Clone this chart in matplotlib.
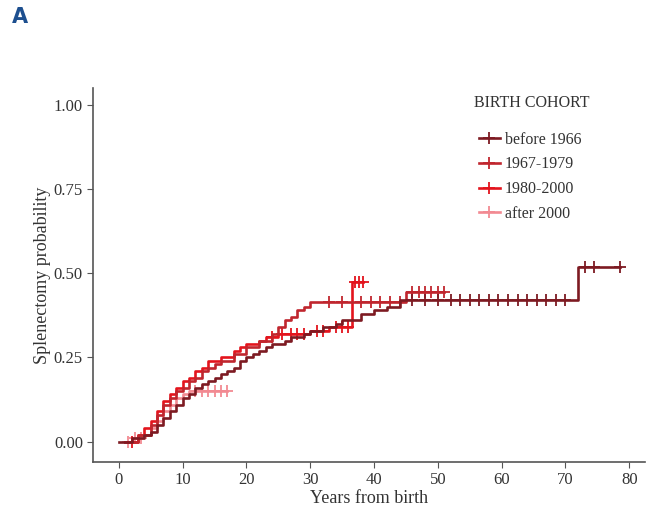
import numpy as np
import matplotlib
matplotlib.use("Agg")
import matplotlib.pyplot as plt
from matplotlib.lines import Line2D

plt.rcParams['font.family'] = ['Liberation Serif', 'DejaVu Serif']

# cohort labels and colours
cohorts = ["before 1966", "1967-1979", "1980-2000", "after 2000"]
colors = ["#7d1a22", "#c0262e", "#e3141d", "#f28a92"]

# event times (years) and cumulative splenectomy probability after each step
t_before1966 = [0, 2, 4, 5, 6, 7, 8, 9, 10, 11, 12, 13, 14, 15, 16, 17, 18, 19, 20, 21,
                22, 23, 24, 25, 26, 27, 28, 29, 30, 32, 34, 35, 38, 40, 42, 44, 72]
y_before1966 = [0, 0.01, 0.02, 0.03, 0.05, 0.07, 0.09, 0.11, 0.13, 0.14, 0.16, 0.17, 0.18,
                0.19, 0.20, 0.21, 0.22, 0.24, 0.25, 0.26, 0.27, 0.28, 0.29, 0.29, 0.30,
                0.31, 0.31, 0.32, 0.33, 0.34, 0.35, 0.36, 0.38, 0.39, 0.40, 0.42, 0.52]
end_before1966 = 78.5
c_before1966 = [46, 48, 50, 52, 53.5, 55, 56.5, 58, 59.5, 61, 62.5, 64, 65.5, 67, 68.5,
                70, 73, 74.5, 78.5]

t_1967 = [1, 3, 5, 6, 7, 8, 9, 10, 11, 12, 13, 14, 15, 16, 18, 20, 22, 24, 25, 26, 27,
          28, 29, 30, 45]
y_1967 = [0, 0.02, 0.05, 0.08, 0.11, 0.13, 0.15, 0.16, 0.18, 0.19, 0.21, 0.22, 0.23, 0.24,
          0.26, 0.28, 0.30, 0.32, 0.34, 0.36, 0.37, 0.39, 0.40, 0.415, 0.445]
end_1967 = 51
c_1967 = [33, 35, 38, 39.5, 41, 42.5, 44, 46, 47, 48, 49, 50, 51]

t_1980 = [1, 3, 4, 5, 6, 7, 8, 9, 10, 11, 12, 13, 14, 16, 18, 19, 20, 22, 23, 25, 30,
          33, 36.5]
y_1980 = [0, 0.02, 0.04, 0.06, 0.09, 0.12, 0.14, 0.16, 0.18, 0.19, 0.21, 0.22, 0.24, 0.25,
          0.27, 0.28, 0.29, 0.30, 0.31, 0.32, 0.33, 0.34, 0.475]
end_1980 = 38.2
c_1980 = [2, 24, 25.5, 27, 28, 29, 31, 32, 34, 35, 36, 37, 37.6, 38.2]

t_after2000 = [1, 2, 4, 5, 6, 7, 8, 9, 10, 11]
y_after2000 = [0, 0.01, 0.02, 0.04, 0.06, 0.09, 0.11, 0.13, 0.14, 0.15]
end_after2000 = 17
c_after2000 = [1.5, 2.5, 3.5, 12, 13, 14, 15, 16, 17]

groups = [
    (t_before1966, y_before1966, end_before1966, c_before1966),
    (t_1967, y_1967, end_1967, c_1967),
    (t_1980, y_1980, end_1980, c_1980),
    (t_after2000, y_after2000, end_after2000, c_after2000),
]

fig = plt.figure(figsize=(6.57, 5.12), dpi=100)
ax = fig.add_axes([0.142, 0.098, 0.84, 0.73])

# draw lightest first so darker curves end up on top
for i in [3, 2, 1, 0]:
    t, y, end, cens = groups[i]
    tt = list(t) + [end]
    yy = list(y) + [y[-1]]
    ax.step(tt, yy, where='post', color=colors[i], lw=1.9)
    cy = [y[max(np.searchsorted(t, c, side='right') - 1, 0)] for c in cens]
    ax.plot(cens, cy, ls='none', marker='+', ms=8, mew=1.3, color=colors[i])

ax.set_xlim(-4, 82.5)
ax.set_ylim(-0.06, 1.05)
ax.set_xticks(np.arange(0, 81, 10))
ax.set_yticks([0, 0.25, 0.5, 0.75, 1.0])
ax.set_yticklabels(["0.00", "0.25", "0.50", "0.75", "1.00"])
for s in ['top', 'right']:
    ax.spines[s].set_visible(False)
for s in ['left', 'bottom']:
    ax.spines[s].set_color('#555555')
    ax.spines[s].set_linewidth(1.2)
ax.tick_params(colors='#555555', labelcolor='#333333', labelsize=12, length=4)
ax.set_xlabel("Years from birth", fontsize=13, color='#333333', labelpad=1)
ax.set_ylabel("Splenectomy probability", fontsize=13, color='#333333', labelpad=2)

# legend title drawn separately to get the wider gap above the entries
ax.text(0.69, 0.96, "BIRTH COHORT", transform=ax.transAxes, fontsize=11.5,
        color='#333333', va='center', ha='left')
handles = [Line2D([], [], color=c, lw=1.9, marker='+', ms=8, mew=1.3) for c in colors]
leg = ax.legend(handles, cohorts, loc='upper left', bbox_to_anchor=(0.673, 0.922),
                frameon=False, fontsize=11.5, handlelength=1.3, labelspacing=0.55,
                handletextpad=0.3)
for txt in leg.get_texts():
    txt.set_color('#333333')

fig.text(0.018, 0.955, "A", fontsize=15, fontweight='bold', color='#1d4f8f',
         family='DejaVu Sans')

fig.savefig("out.png", dpi=100)
